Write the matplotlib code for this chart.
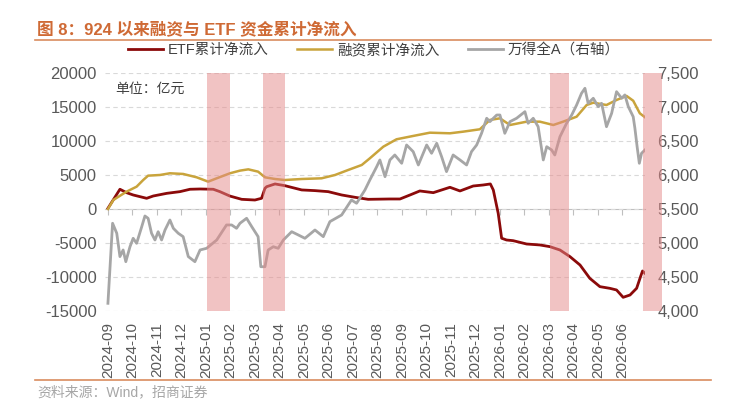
import matplotlib.pyplot as plt
from matplotlib.lines import Line2D
from matplotlib.ticker import FuncFormatter

plt.rcParams['font.family'] = ['Liberation Sans', 'Noto Sans CJK SC']
plt.rcParams['axes.unicode_minus'] = False

# x positions are in months from the 2024-09 label
months = ['2024-09', '2024-10', '2024-11', '2024-12', '2025-01', '2025-02', '2025-03',
          '2025-04', '2025-05', '2025-06', '2025-07', '2025-08', '2025-09', '2025-10',
          '2025-11', '2025-12', '2026-01', '2026-02', '2026-03', '2026-04', '2026-05',
          '2026-06']

etf_x = [0.0, 0.49, 0.76, 1.03, 1.58, 1.85, 2.40, 2.94, 3.35, 3.76, 4.30, 4.57, 4.98,
         5.46, 6.00, 6.27, 6.41, 6.48, 6.82, 7.22, 7.91, 8.45, 8.99, 9.54, 10.08, 10.62,
         11.51, 11.92, 12.33, 12.73, 13.28, 13.96, 14.37, 14.91, 15.32, 15.61, 15.73,
         15.93, 16.07, 16.27, 16.54, 17.09, 17.63, 18.04, 18.45, 18.86, 19.27, 19.67,
         20.08, 20.49, 20.76, 21.03, 21.31, 21.58, 21.74, 21.82, 21.92]
etf_y = [100, 2900, 2400, 2060, 1570, 1910, 2300, 2550, 2900, 2940, 2900, 2550, 1900,
         1420, 1320, 1570, 3040, 3280, 3680, 3430, 2800, 2700, 2550, 2060, 1720, 1420,
         1470, 1470, 2060, 2650, 2400, 3190, 2650, 3380, 3530, 3680, 2790,
         -640, -4300, -4560, -4660, -5150, -5290, -5540, -6030, -7010, -8240, -10200,
         -11420, -11670, -11910, -12990, -12650, -11660, -9950, -9120, -9460]

margin_x = [0.0, 0.22, 0.76, 1.17, 1.44, 1.64, 2.12, 2.53, 3.07, 3.62, 4.09, 4.44, 4.98,
            5.39, 5.73, 6.13, 6.41, 6.82, 7.22, 7.91, 8.72, 9.27, 9.81, 10.36, 10.69,
            11.24, 11.78, 12.46, 13.14, 13.96, 14.50, 15.18, 15.59, 16.0, 16.41, 17.09,
            17.63, 18.18, 18.58, 19.13, 19.54, 19.81, 20.35, 20.76, 21.17, 21.44, 21.71,
            21.92]
margin_y = [0, 1320, 2550, 3280, 4260, 4900, 5000, 5250, 5150, 4660, 4020, 4510, 5250,
            5640, 5830, 5490, 4660, 4410, 4260, 4410, 4510, 5000, 5740, 6470, 7450,
            9160, 10250, 10740, 11220, 11130, 11370, 11720, 13090, 13330, 12350, 12840,
            12840, 12350, 12840, 13570, 15290, 15630, 15290, 16030, 16620, 15920, 14070,
            13490]

wind_x = [0.0, 0.19, 0.36, 0.49, 0.62, 0.73, 0.90, 1.03, 1.17, 1.38, 1.51, 1.64, 1.78,
          1.92, 2.05, 2.19, 2.33, 2.53, 2.67, 2.87, 3.07, 3.28, 3.55, 3.76, 4.03, 4.44,
          4.84, 5.05, 5.25, 5.39, 5.66, 5.87, 6.13, 6.24, 6.41, 6.54, 6.75, 6.95, 7.16,
          7.50, 7.77, 8.04, 8.45, 8.79, 9.06, 9.54, 9.94, 10.15, 10.49, 10.69, 10.97,
          11.10, 11.31, 11.51, 11.71, 11.99, 12.19, 12.46, 12.67, 13.01, 13.21, 13.42,
          13.62, 13.82, 14.09, 14.37, 14.64, 14.84, 15.05, 15.25, 15.46, 15.59, 15.87,
          16.0, 16.20, 16.41, 16.68, 17.02, 17.15, 17.36, 17.56, 17.77, 17.91, 18.11,
          18.24, 18.45, 18.72, 18.93, 19.13, 19.33, 19.47, 19.60, 19.81, 20.01, 20.15,
          20.35, 20.56, 20.76, 20.97, 21.10, 21.24, 21.44, 21.51, 21.60, 21.69, 21.78,
          21.92]
wind_y = [4113, 5290, 5143, 4800, 4897, 4725, 4945, 5069, 4995, 5240, 5397, 5363, 5143,
          5044, 5166, 5044, 5191, 5338, 5216, 5143, 5093, 4800, 4725, 4897, 4922, 5044,
          5265, 5265, 5216, 5290, 5363, 5240, 5093, 4651, 4651, 4897, 4945, 4922, 5044,
          5166, 5118, 5069, 5191, 5093, 5314, 5412, 5632, 5584, 5779, 5926, 6122,
          6221, 5975, 6221, 6294, 6172, 6441, 6343, 6147, 6441, 6319, 6466,
          6269, 6049, 6294, 6221, 6147, 6343, 6441, 6613, 6834, 6784, 6882,
          6882, 6613, 6784, 6834, 6931, 6760, 6834, 6710, 6221, 6416, 6368,
          6294, 6563, 6760, 6882, 7029, 7201, 7275, 7054, 7128, 7005, 7054,
          6710, 6907, 7225, 7128, 7177, 7005, 6857, 6686, 6416, 6172, 6319,
          6368]

bands = [(4.04, 4.98), (6.33, 7.22), (18.04, 18.82), (21.84, 22.61)]

fig = plt.figure(figsize=(7.51, 4.07), dpi=100)
ax = fig.add_axes([0.1398, 0.2359, 0.719, 0.5848])
ax2 = ax.twinx()

l1, = ax.plot(etf_x, etf_y, color='#8B0A0A', lw=2.0, label='ETF累计净流入')
l2, = ax.plot(margin_x, margin_y, color='#C9A43C', lw=1.8, label='融资累计净流入')
l3, = ax2.plot(wind_x, wind_y, color='#A6A6A6', lw=2.0, label='万得全A（右轴）')

for a, b in bands:
    ax2.axvspan(a, b, color='#E58989', alpha=0.5, lw=0, zorder=5, clip_on=False)

ax.set_xlim(-0.12, 21.92)
ax.set_ylim(-15000, 20000)
ax2.set_ylim(4000, 7500)

ax.set_yticks(range(-15000, 20001, 5000))
ax2.set_yticks(range(4000, 7501, 500))
ax2.yaxis.set_major_formatter(FuncFormatter(lambda v, p: f'{int(v):,}'))
ax.grid(axis='y', ls=(0, (4, 3)), color='#D9D9D9', lw=0.8)

ax.set_xticks(range(len(months)))
ax.set_xticklabels(months, rotation=90)
ax.tick_params(axis='x', length=0, pad=8, labelsize=11, labelcolor='#595959')
ax.tick_params(axis='y', length=0, pad=6, labelsize=12, labelcolor='#595959')
ax2.tick_params(axis='y', length=0, pad=9, labelsize=12, labelcolor='#595959')
for s in ax.spines.values():
    s.set_visible(False)
for s in ax2.spines.values():
    s.set_visible(False)

# zero line with ticks
sec = ax.secondary_xaxis(15000 / 35000)
sec.set_xticks(range(len(months)))
sec.tick_params(length=4, direction='out', color='#BFBFBF', labelbottom=False, labeltop=False)
for s in sec.spines.values():
    s.set_color('#BFBFBF')

ax.text(0.0185, 0.933, '单位：亿元', transform=ax.transAxes, fontsize=10,
        color='#404040', va='center')

fig.legend([l1, l2, l3], [l1.get_label(), l2.get_label(), l3.get_label()],
           loc='center', bbox_to_anchor=(0.498, 0.877), ncol=3, frameon=False,
           fontsize=10.5, handlelength=2.4, columnspacing=2.0, handletextpad=0.3,
           labelcolor='#404040')

fig.text(37 / 751, 1 - 30 / 407, '图 8：924 以来融资与 ETF 资金累计净流入',
         color='#CF6A35', fontsize=12, fontweight='bold', va='center')
fig.add_artist(Line2D([35 / 751, 711 / 751], [1 - 40 / 407] * 2, color='#D98C5F', lw=1.2))
fig.add_artist(Line2D([35 / 751, 711 / 751], [1 - 380 / 407] * 2, color='#D98C5F', lw=1.2))
fig.text(37 / 751, 1 - 392 / 407, '资料来源：Wind，招商证券', color='#A6A6A6',
         fontsize=10, va='center')

fig.savefig('out.png', dpi=100)
